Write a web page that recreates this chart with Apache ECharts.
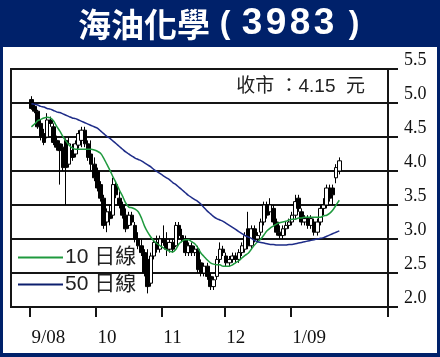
<!DOCTYPE html>
<html><head><meta charset="utf-8">
<script src="https://cdn.jsdelivr.net/npm/echarts@6/dist/echarts.min.js"></script>
<style>html,body{margin:0;padding:0;background:#00216a;}#c{width:440px;height:357px;}</style>
</head><body><div id="c"></div>
<script>
// Trading days (Aug 2008 - Feb 2009)
const categories = ("08-22 08-25 08-26 08-27 08-28 08-29 " +
  "09-01 09-02 09-03 09-04 09-05 09-08 09-09 09-10 09-11 09-12 09-16 09-17 09-18 09-19 09-22 09-23 09-24 09-25 09-26 09-29 09-30 " +
  "10-02 10-03 10-06 10-08 10-09 10-10 10-13 10-14 10-15 10-16 10-17 10-20 10-21 10-22 10-23 10-24 10-27 10-28 10-29 10-30 10-31 " +
  "11-03 11-04 11-05 11-06 11-07 11-10 11-11 11-12 11-13 11-14 11-17 11-18 11-19 11-20 11-21 11-24 11-25 11-26 11-27 11-28 " +
  "12-01 12-02 12-03 12-04 12-05 12-08 12-09 12-10 12-11 12-12 12-15 12-16 12-17 12-18 12-19 12-22 12-23 12-24 12-29 12-30 12-31 " +
  "01-02 01-05 01-06 01-07 01-08 01-09 01-12 01-13 01-14 01-15 01-16 01-19 01-20 01-21 01-22 01-23 01-29 01-30 " +
  "02-02 02-03 02-04 02-05 02-06 02-09 02-10 02-11 02-12 02-13 02-16 02-17 02-18").split(' ');
const monthTicks = {'09-01':'9/08','10-02':'10','11-03':'11','12-01':'12','01-02':'1/09'};
const firstDate = '09-01';
const yTicks = [2.0, 2.5, 3.0, 3.5, 4.0, 4.5, 5.0, 5.5];

// [open, high, low, close] from 09-01
const ohlc = [
[5.05,5.10,4.90,4.92],[4.95,5.00,4.85,4.88],[4.88,4.90,4.62,4.65],[4.70,4.75,4.45,4.50],[4.55,4.62,4.38,4.42],
[4.50,4.85,4.48,4.75],[4.75,4.80,4.65,4.70],[4.65,4.70,4.38,4.42],[4.45,4.52,4.30,4.35],[4.40,4.45,3.80,4.30],
[4.35,4.40,4.00,4.05],[4.45,4.48,3.50,4.05],[4.10,4.50,4.05,4.40],[4.30,4.40,4.15,4.20],[4.25,4.45,4.20,4.40],
[4.38,4.60,4.33,4.55],[4.45,4.65,4.35,4.60],[4.60,4.65,4.35,4.40],[4.40,4.45,4.15,4.20],[4.25,4.45,4.00,4.10],
[4.10,4.20,3.85,3.90],[4.00,4.05,3.70,3.75],[3.80,3.85,3.55,3.60],[3.60,3.65,3.15,3.20],[3.25,3.45,3.10,3.40],
[3.40,3.50,3.20,3.30],[3.35,3.90,3.30,3.80],[3.80,3.85,3.60,3.65],[3.60,3.70,3.45,3.50],[3.50,3.55,3.30,3.35],
[3.35,3.45,3.10,3.15],[3.20,3.40,3.15,3.35],[3.35,3.40,3.20,3.25],[3.20,3.25,2.95,3.00],[3.00,3.10,2.85,2.90],
[2.90,3.00,2.75,2.80],[2.80,2.85,2.45,2.50],[2.70,2.85,2.20,2.30],[2.35,2.80,2.30,2.75],[2.75,3.00,2.70,2.95],
[2.95,3.05,2.80,2.85],[2.85,3.05,2.80,3.00],[3.00,3.20,2.90,2.95],[2.95,3.10,2.75,2.85],[2.85,3.00,2.80,2.95],
[2.95,3.00,2.80,2.85],[2.90,3.25,2.88,3.20],[3.20,3.25,3.00,3.05],[3.05,3.15,2.95,3.00],[3.00,3.05,2.75,2.80],
[2.80,2.95,2.75,2.90],[2.90,2.95,2.75,2.80],[2.80,2.90,2.75,2.85],[2.85,2.90,2.50,2.55],[2.65,2.70,2.45,2.50],
[2.50,2.65,2.45,2.60],[2.60,2.65,2.40,2.45],[2.45,2.50,2.25,2.30],[2.30,2.45,2.25,2.40],[2.45,2.75,2.40,2.70],
[2.70,2.95,2.65,2.85],[2.85,2.90,2.75,2.80],[2.75,2.80,2.60,2.65],[2.65,2.75,2.60,2.70],[2.70,2.80,2.65,2.75],
[2.75,2.80,2.65,2.70],[2.70,2.85,2.65,2.80],[2.80,2.95,2.75,2.90],[2.85,3.10,2.80,3.05],[3.15,3.40,2.85,2.90],
[2.90,3.20,2.85,3.15],[3.15,3.20,2.95,3.00],[3.00,3.10,2.95,3.05],[3.10,3.30,3.05,3.25],[3.25,3.55,3.20,3.50],
[3.50,3.55,3.30,3.35],[3.40,3.60,3.35,3.50],[3.45,3.50,3.20,3.25],[3.25,3.30,3.05,3.10],[3.10,3.20,3.00,3.05],
[3.05,3.20,3.00,3.15],[3.15,3.25,3.05,3.20],[3.20,3.30,3.15,3.25],[3.25,3.40,3.20,3.35],[3.35,3.65,3.30,3.55],
[3.60,3.65,3.40,3.45],[3.40,3.45,3.20,3.25],[3.25,3.35,3.20,3.30],[3.30,3.35,3.15,3.20],[3.20,3.35,3.15,3.30],
[3.25,3.30,3.05,3.10],[3.10,3.30,3.05,3.25],[3.25,3.50,3.20,3.45],[3.45,3.60,3.35,3.50],[3.50,3.80,3.45,3.75],
[3.75,3.80,3.55,3.60],[3.75,3.80,3.50,3.65],[3.90,4.10,3.82,4.05],[4.00,4.20,3.95,4.15]
];
const ma10 = [
4.65,4.69,4.74,4.76,4.78,4.79,4.78,4.74,4.66,4.59,
4.51,4.44,4.38,4.34,4.32,4.32,4.32,4.32,4.32,4.32,
4.31,4.29,4.26,4.19,4.10,4.01,3.91,3.82,3.72,3.63,
3.53,3.47,3.46,3.44,3.40,3.31,3.19,3.10,3.03,2.97,
2.93,2.90,2.87,2.84,2.82,2.81,2.85,2.93,2.97,2.99,
2.99,2.96,2.93,2.87,2.79,2.74,2.69,2.65,2.63,2.62,
2.62,2.60,2.60,2.60,2.62,2.65,2.68,2.72,2.76,2.79,
2.85,2.91,2.96,3.00,3.06,3.12,3.16,3.19,3.22,3.24,
3.25,3.26,3.28,3.29,3.29,3.31,3.31,3.32,3.32,3.32,
3.32,3.32,3.32,3.34,3.35,3.38,3.43,3.50,3.57
];
const ma50 = [
4.99,4.98,4.97,4.95,4.94,4.92,4.91,4.89,4.87,4.86,
4.84,4.82,4.80,4.78,4.77,4.75,4.73,4.71,4.69,4.67,
4.65,4.63,4.59,4.55,4.51,4.48,4.44,4.40,4.36,4.32,
4.28,4.25,4.22,4.19,4.17,4.15,4.12,4.09,4.06,4.02,
3.99,3.96,3.93,3.90,3.87,3.83,3.80,3.76,3.72,3.68,
3.64,3.61,3.58,3.55,3.51,3.46,3.41,3.37,3.33,3.30,
3.28,3.26,3.23,3.20,3.17,3.14,3.11,3.08,3.05,3.03,
3.01,2.98,2.96,2.95,2.94,2.93,2.92,2.92,2.91,2.91,
2.91,2.91,2.92,2.92,2.93,2.94,2.95,2.96,2.97,2.98,
2.99,3.00,3.01,3.02,3.04,3.06,3.08,3.10,3.12
];

const off = categories.indexOf(firstDate);
function pad(arr, f) {
  const out = categories.map(() => '-');
  arr.forEach((v, i) => { out[off + i] = f ? f(v) : v; });
  return out;
}
const kData = pad(ohlc, d => [d[0], d[3], d[2], d[1]]);
const isTick = (idx) => monthTicks[categories[idx]] !== undefined;

const chart = echarts.init(document.getElementById('c'), null, {renderer: 'canvas'});
const cjk = "'Noto Sans CJK TC','Noto Sans CJK SC',sans-serif";
chart.setOption({
  backgroundColor: '#00216a',
  animation: false,
  graphic: [{type: 'rect', z: -100, silent: true, shape: {x: 3, y: 47, width: 434, height: 306}, style: {fill: '#ffffff'}}],
  title: [{
    text: '{a|海油化學}{p|(}{d|3}{d|9}{d|8}{d|3}{p2|)}',
    left: 78, top: 6, padding: 0,
    textStyle: {
      rich: {
        a: {fontSize: 33, fontWeight: 'bold', color: '#fff', fontFamily: cjk, verticalAlign: 'middle', lineHeight: 36},
        p: {fontSize: 32, fontWeight: 'bold', color: '#fff', fontFamily: "'Liberation Sans',sans-serif", width: 30, align: 'center', verticalAlign: 'middle', lineHeight: 36},
        p2: {fontSize: 32, fontWeight: 'bold', color: '#fff', fontFamily: "'Liberation Sans',sans-serif", width: 36, align: 'center', verticalAlign: 'middle', lineHeight: 36},
        d: {fontSize: 37, fontWeight: 'bold', color: '#fff', fontFamily: "'Liberation Sans',sans-serif", width: 24, align: 'center', verticalAlign: 'middle', lineHeight: 36}
      }
    }
  }, {
    text: '收市 ：4.15  元',
    right: 75, top: 77, padding: 0,
    textStyle: {fontSize: 19, fontWeight: 'normal', color: '#222', fontFamily: "'Liberation Sans','Noto Sans CJK TC',sans-serif"}
  }],
  legend: {
    data: [{name: '10 日線', icon: 'rect'}, {name: '50 日線', icon: 'rect'}],
    orient: 'vertical', left: 13, top: 242,
    itemWidth: 45, itemHeight: 2, itemGap: 6,
    textStyle: {fontSize: 21, color: '#222', fontFamily: "'Liberation Sans','Noto Sans CJK TC',sans-serif", lineHeight: 21, padding: [0, 0, 0, -3]}
  },
  grid: {left: 11, right: 52, top: 69, bottom: 50, show: true, borderColor: '#151515', borderWidth: 2, backgroundColor: 'transparent'},
  xAxis: {
    type: 'category', data: categories, boundaryGap: true,
    axisLine: {show: true, lineStyle: {color: '#151515', width: 2}},
    axisTick: {show: true, interval: isTick, length: 10, lineStyle: {color: '#151515', width: 2}},
    axisLabel: {interval: isTick, formatter: v => monthTicks[v] || '', align: 'left', margin: 22,
      fontSize: 19, color: '#111', fontFamily: "'Liberation Serif',serif"},
    splitLine: {show: false}
  },
  yAxis: {
    type: 'value', position: 'right', min: 2, max: 5.5, interval: 0.5,
    axisLine: {show: true, lineStyle: {color: '#151515', width: 2}},
    axisTick: {show: true, length: 10, lineStyle: {color: '#151515', width: 2}},
    axisLabel: {margin: 16, fontSize: 18, color: '#111', fontFamily: "'Liberation Serif',serif",
      formatter: v => v.toFixed(1), verticalAlign: 'bottom', lineHeight: 18},
    splitLine: {show: true, lineStyle: {color: '#151515', width: 2}}
  },
  series: [{
    type: 'candlestick', name: 'K', data: kData, barWidth: 4, z: 3,
    itemStyle: {color: '#ffffff', color0: '#000000', borderColor: '#000000', borderColor0: '#000000', borderWidth: 1}
  }, {
    type: 'line', name: '10 日線', data: pad(ma10), symbol: 'none', smooth: 0.3, z: 4,
    lineStyle: {color: '#1f9a3e', width: 1.5}, itemStyle: {color: '#1f9a3e'}
  }, {
    type: 'line', name: '50 日線', data: pad(ma50), symbol: 'none', smooth: 0.3, z: 4,
    lineStyle: {color: '#1e2c88', width: 1.5}, itemStyle: {color: '#0d1f6e'}
  }]
});
</script></body></html>
